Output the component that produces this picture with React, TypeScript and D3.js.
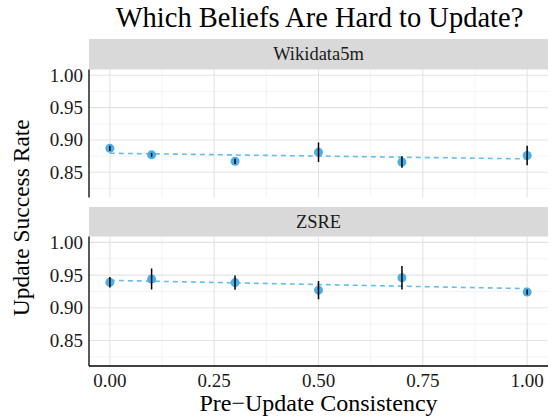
import * as d3 from 'd3';

const consistency = [0, 0.1, 0.3, 0.5, 0.7, 1.0];
const wikiRate = [0.887, 0.877, 0.867, 0.881, 0.866, 0.876];
const wikiErr = [0.004, 0.003, 0.004, 0.015, 0.009, 0.015];
const zsreRate = [0.939, 0.944, 0.9385, 0.927, 0.946, 0.924];
const zsreErr = [0.008, 0.016, 0.011, 0.014, 0.018, 0.004];
const panelNames = ['Wikidata5m', 'ZSRE'];
const yTicks = [0.85, 0.9, 0.95, 1.0];
const xTicks = [0, 0.25, 0.5, 0.75, 1.0];

const W = 554, H = 419;
const left = 89, right = 548;
const panels = [
  { name: panelNames[0], rate: wikiRate, err: wikiErr, stripTop: 39, top: 69.5, bottom: 197.5 },
  { name: panelNames[1], rate: zsreRate, err: zsreErr, stripTop: 207, top: 236.5, bottom: 366 },
];
const pointColor = '#4DAEE6';
const lineColor = '#66BDEE';
const font = "Liberation Serif, serif";

// least squares fit, like geom_smooth(method = "lm")
const fit = (xs: number[], ys: number[]) => {
  const mx = d3.mean(xs)!, my = d3.mean(ys)!;
  const sxy = d3.sum(xs, (x, i) => (x - mx) * (ys[i] - my));
  const sxx = d3.sum(xs, (x) => (x - mx) ** 2);
  const slope = sxy / sxx;
  return (x: number) => my + slope * (x - mx);
};

export default function App() {
  const x = d3.scaleLinear().domain([-0.05, 1.05]).range([left, right]);
  const xMinor = [0.125, 0.375, 0.625, 0.875];
  return (
    <svg width={W} height={H} style={{ position: 'absolute', left: 0, top: 0 }} fontFamily={font}>
      <rect width={W} height={H} fill="white" />
      <text x={(left + right) / 2 + 1} y={27} textAnchor="middle" fontSize={28.5} fill="#000">
        Which Beliefs Are Hard to Update?
      </text>
      {panels.map((p) => {
        const y = d3.scaleLinear().domain([0.811, 1.009]).range([p.bottom, p.top]);
        const f = fit(consistency, p.rate);
        const line = d3.line<number>().x((d) => x(d)).y((d) => y(f(d)));
        const minorY = [0.825, 0.875, 0.925, 0.975];
        return (
          <g key={p.name}>
            <rect x={left} y={p.stripTop} width={right - left} height={p.top - p.stripTop} fill="#D9D9D9" />
            <text x={(left + right) / 2} y={(p.stripTop + p.top) / 2 + 6} textAnchor="middle" fontSize={18.5} fill="#1A1A1A">
              {p.name}
            </text>
            {minorY.map((v) => (
              <line key={'my' + v} x1={left} x2={right} y1={y(v)} y2={y(v)} stroke="#EBEBEB" strokeWidth={0.6} />
            ))}
            {xMinor.map((v) => (
              <line key={'mx' + v} x1={x(v)} x2={x(v)} y1={p.top} y2={p.bottom} stroke="#EBEBEB" strokeWidth={0.6} />
            ))}
            {yTicks.map((v) => (
              <line key={'y' + v} x1={left} x2={right} y1={y(v)} y2={y(v)} stroke="#E3E3E3" strokeWidth={1.1} />
            ))}
            {xTicks.map((v) => (
              <line key={'x' + v} x1={x(v)} x2={x(v)} y1={p.top} y2={p.bottom} stroke="#E3E3E3" strokeWidth={1.1} />
            ))}
            {yTicks.map((v) => (
              <text key={'t' + v} x={left - 6} y={y(v) + 6.5} textAnchor="end" fontSize={19} fill="#1A1A1A">
                {v.toFixed(2)}
              </text>
            ))}
            <path d={line([0, 1])!} fill="none" stroke={lineColor} strokeWidth={1.6} strokeDasharray="5,4" />
            {consistency.map((c, i) => (
              <circle key={'c' + i} cx={x(c)} cy={y(p.rate[i])} r={4.5} fill={pointColor} />
            ))}
            {consistency.map((c, i) => (
              <line key={'e' + i} x1={x(c)} x2={x(c)} y1={y(p.rate[i] - p.err[i])} y2={y(p.rate[i] + p.err[i])}
                stroke="#000" strokeWidth={1.5} />
            ))}
            <line x1={left} x2={left} y1={p.top} y2={p.bottom} stroke="#000" strokeWidth={1.3} />
          </g>
        );
      })}
      <line x1={left} x2={right} y1={366} y2={366} stroke="#000" strokeWidth={1.3} />
      {xTicks.map((v) => (
        <text key={'xt' + v} x={x(v)} y={387} textAnchor="middle" fontSize={19} fill="#1A1A1A">
          {v.toFixed(2)}
        </text>
      ))}
      <text x={(left + right) / 2} y={411} textAnchor="middle" fontSize={24} fill="#000">
        Pre−Update Consistency
      </text>
      <text transform={`translate(29, ${(69.5 + 366) / 2}) rotate(-90)`} textAnchor="middle" fontSize={23.5} fill="#000">
        Update Success Rate
      </text>
    </svg>
  );
}
